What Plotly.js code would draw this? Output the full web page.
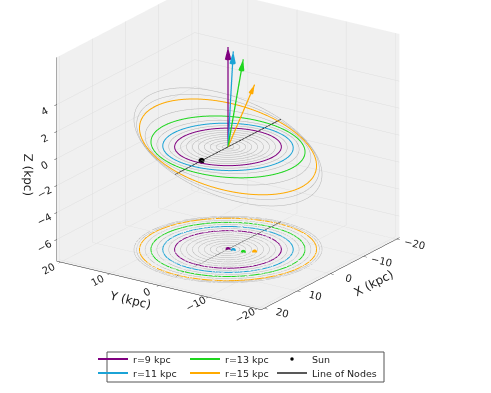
<!DOCTYPE html>
<html><head><meta charset="utf-8">
<script src="https://cdn.plot.ly/plotly-3.0.1.min.js"></script>
<style>html,body{margin:0;padding:0;background:#fff}#plot{width:491px;height:393px}#log{position:absolute;left:0;top:0;font:9px monospace;color:red}</style>
</head><body><div id="plot"></div><div id="log"></div>
<script>
function log(m){document.getElementById('log').textContent += m + ' | ';}
window.onerror = function(msg, src, l, c){ log('ERR: '+msg+' @'+l+':'+c); };
// ring radii (kpc) and their tilt (deg) about the line of nodes
const ringRadii = [1,2,3,4,5,6,7,8,9,10,11,12,13,14,15,15.5,16];
const ringIncl  = [0,0,0,0,0,0,0,0,0,0.3,0.5,1,2,4,6.5,7.5,9];
// highlighted rings
const hlRadii  = [9,11,13,15];
const hlColors = ['#800080','#1ba3d6','#1ed61e','#ffaa00'];
const hlLabels = ['r=9 kpc','r=11 kpc','r=13 kpc','r=15 kpc'];
// normal-vector arrows (kpc) for highlighted rings
const arrowX = [0.0,-0.1,-0.3,-1.5];
const arrowY = [0.0,-1.0,-2.9,-4.4];
const arrowZ = [7.4,7.15,6.7,4.8];
// Sun and line of nodes
const sunX = [8], sunY = [0], sunZ = [0];
const nodeX = [-16,16], nodeY = [0,0];
const floorZ = -7.6, zTop = 7.5;
const xyTicks = [-20,-10,0,10,20];
const zTicks = [-6,-4,-2,0,2,4];
const fmt = v => (v<0 ? '\u2212'+Math.abs(v) : String(v));
// the Y axis runs from +20 (left) to -20 (right): display coordinate is -Y
const yd = v => -v;

// legend slots: [legend id, x (px, left), y (px, centre)]
const legSlot = {
  'r=9 kpc':['legend',93,359], 'r=11 kpc':['legend2',93,373],
  'r=13 kpc':['legend3',185,359], 'r=15 kpc':['legend4',185,373],
  'Sun':['legend5',272,359], 'Line of Nodes':['legend6',272,373]
};

const N = 181;
function ring(r, incDeg, flat) {
  const i = incDeg*Math.PI/180, xs=[], ys=[], zs=[];
  for (let k=0;k<N;k++){
    const p = 2*Math.PI*k/(N-1);
    xs.push(r*Math.cos(p));
    ys.push(yd(r*Math.sin(p)*Math.cos(i)));
    zs.push(flat ? floorZ : r*Math.sin(p)*Math.sin(i));
  }
  return {xs,ys,zs};
}
const traces = [];
const GRAY = '#b4b4b4';
ringRadii.forEach((r,idx)=>{
  if (hlRadii.includes(r)) return;
  [true,false].forEach(flat=>{
    const g = ring(r, ringIncl[idx], flat);
    traces.push({type:'scatter3d',mode:'lines',x:g.xs,y:g.ys,z:g.zs,
      line:{color:GRAY,width:1},showlegend:false,hoverinfo:'skip'});
  });
});
traces.push({type:'scatter3d',mode:'lines',x:nodeX,y:nodeY.map(yd),z:[0,0],
  line:{color:'#222222',width:1.5},name:'Line of Nodes',legend:legSlot['Line of Nodes'][0],hoverinfo:'skip'});
traces.push({type:'scatter3d',mode:'lines',x:nodeX,y:nodeY.map(yd),z:nodeX.map(()=>floorZ),
  line:{color:'#222222',width:1.5},showlegend:false,hoverinfo:'skip'});
const cones = [];
hlRadii.forEach((r,h)=>{
  const idx = ringRadii.indexOf(r);
  const gf = ring(r, ringIncl[idx], true);
  traces.push({type:'scatter3d',mode:'lines',x:gf.xs,y:gf.ys,z:gf.zs,
    line:{color:hlColors[h],width:2},showlegend:false,hoverinfo:'skip'});
  const g = ring(r, ringIncl[idx], false);
  traces.push({type:'scatter3d',mode:'lines',x:g.xs,y:g.ys,z:g.zs,
    line:{color:hlColors[h],width:2},name:hlLabels[h],legend:legSlot[hlLabels[h]][0],hoverinfo:'skip'});
  traces.push({type:'scatter3d',mode:'lines',x:[0,arrowX[h]],y:[0,yd(arrowY[h])],z:[0,arrowZ[h]],
    line:{color:hlColors[h],width:2.5},showlegend:false,hoverinfo:'skip'});
  traces.push({type:'scatter3d',mode:'markers',x:[arrowX[h]],y:[yd(arrowY[h])],z:[floorZ],
    marker:{color:hlColors[h],size:3,line:{width:0}},showlegend:false,hoverinfo:'skip'});
  const L = Math.hypot(arrowX[h],arrowY[h],arrowZ[h]);
  cones.push({type:'cone',x:[arrowX[h]],y:[yd(arrowY[h])],z:[arrowZ[h]],
    u:[arrowX[h]/L],v:[yd(arrowY[h])/L],w:[arrowZ[h]/L],anchor:'tip',
    sizemode:'absolute',sizeref:0.9,showscale:false,
    colorscale:[[0,hlColors[h]],[1,hlColors[h]]],
    lighting:{ambient:1,diffuse:0,specular:0,roughness:1,fresnel:0},hoverinfo:'skip',showlegend:false});
});
traces.push({type:'scatter3d',mode:'markers',x:sunX,y:sunY.map(yd),z:sunZ,
  marker:{color:'black',size:3.5,line:{width:0}},name:'Sun',legend:legSlot['Sun'][0],hoverinfo:'skip'});

const W = 491, H = 393;
const axBase = {showbackground:true,backgroundcolor:'rgb(240,240,240)',gridcolor:'rgb(222,222,222)',
  gridwidth:1,showline:true,linecolor:'#222',linewidth:1,zeroline:false,ticks:'outside',ticklen:4,
  tickcolor:'#222',tickfont:{size:11,color:'#222'},showspikes:false};
const d = 1.75, th = 34*Math.PI/180, el = 20.6*Math.PI/180;
const S = 1.47, zPerUnit = 0.0858, cz = -0.13;
const layout = {
  width:W,height:H,margin:{l:0,r:0,t:0,b:0},paper_bgcolor:'#fff',
  font:{family:'DejaVu Sans, sans-serif',size:10,color:'#222'},
  showlegend:true,
  shapes:[{type:'rect',xref:'paper',yref:'paper',x0:107/W,x1:384/W,y0:1-382/H,y1:1-352/H,
    line:{color:'#555',width:1},fillcolor:'#fff',layer:'below'}],
  scene:{
    domain:{x:[0,0.929],y:[0.146,1]},
    aspectmode:'manual',aspectratio:{x:S,y:S,z:zPerUnit*(zTop-floorZ)},
    camera:{eye:{x:d*Math.cos(el)*Math.cos(th),y:d*Math.cos(el)*Math.sin(th),z:d*Math.sin(el)+cz},
      center:{x:0,y:0,z:cz},up:{x:0,y:0,z:1},projection:{type:'orthographic'}},
    xaxis:Object.assign({},axBase,{range:[-20.83,20.83],tickvals:xyTicks,ticktext:xyTicks.map(fmt),title:{text:'X (kpc)',font:{size:12}}}),
    yaxis:Object.assign({},axBase,{range:[-20.83,20.83],tickvals:xyTicks.map(yd),ticktext:xyTicks.map(fmt),title:{text:'Y (kpc)',font:{size:12}}}),
    zaxis:Object.assign({},axBase,{range:[floorZ,zTop],tickvals:zTicks,ticktext:zTicks.map(fmt),title:{text:'Z (kpc)',font:{size:12}}})
  }
};
Object.keys(legSlot).forEach(k=>{
  const [id,x,y] = legSlot[k];
  layout[id] = {x:x/W,xanchor:'left',y:1-y/H,yanchor:'middle',bgcolor:'rgba(0,0,0,0)',
    borderwidth:0,font:{size:9.5,color:'#222'},itemwidth:30,orientation:'v'};
});
Plotly.newPlot('plot',traces,layout,{displayModeBar:false})
  .then(()=>Plotly.addTraces('plot',cones))
  .catch(e=>log('promise '+e));
</script></body></html>
